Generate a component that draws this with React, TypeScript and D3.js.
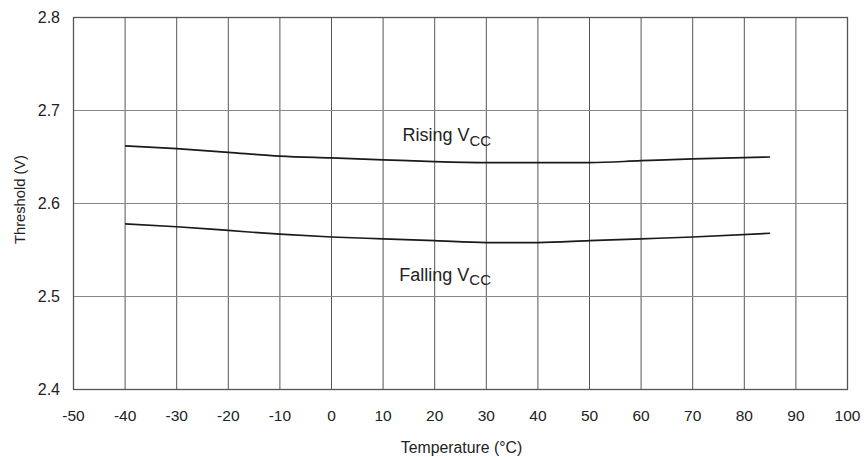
import React from "react";
import * as d3 from "d3";

const temps = [-40, -30, -20, -10, 0, 10, 20, 30, 40, 50, 60, 70, 85];
const rising = [2.662, 2.659, 2.655, 2.651, 2.649, 2.647, 2.645, 2.644, 2.644, 2.644, 2.646, 2.648, 2.650];
const falling = [2.578, 2.575, 2.571, 2.567, 2.564, 2.562, 2.560, 2.558, 2.558, 2.560, 2.562, 2.564, 2.568];
const xTicks = [-50, -40, -30, -20, -10, 0, 10, 20, 30, 40, 50, 60, 70, 80, 90, 100];
const yTicks = [2.4, 2.5, 2.6, 2.7, 2.8];

export default function App() {
  const W = 865, H = 457;
  const left = 73.5, right = 847.5, top = 17.5, bottom = 389.5;
  const x = d3.scaleLinear().domain([-50, 100]).range([left, right]);
  const y = d3.scaleLinear().domain([2.4, 2.8]).range([bottom, top]);
  const line = d3.line<[number, number]>().x(d => x(d[0])).y(d => y(d[1])).curve(d3.curveMonotoneX);
  const rData = temps.map((t, i) => [t, rising[i]] as [number, number]);
  const fData = temps.map((t, i) => [t, falling[i]] as [number, number]);
  const font = "Liberation Sans, Arial, Helvetica, sans-serif";
  return (
    <svg width={W} height={H} style={{ position: "absolute", left: 0, top: 0, background: "#fff" }} fontFamily={font}>
      {xTicks.slice(1, -1).map(t => (
        <line key={"gx" + t} x1={x(t)} x2={x(t)} y1={top} y2={bottom} stroke="#555" strokeWidth={1} />
      ))}
      {yTicks.slice(1, -1).map(t => (
        <line key={"gy" + t} x1={left} x2={right} y1={y(t)} y2={y(t)} stroke="#888" strokeWidth={1} />
      ))}
      <rect x={left} y={top} width={right - left} height={bottom - top} fill="none" stroke="#555" strokeWidth={1.3} />
      <path d={line(rData) || ""} fill="none" stroke="#1a1a1a" strokeWidth={1.7} />
      <path d={line(fData) || ""} fill="none" stroke="#1a1a1a" strokeWidth={1.7} />
      {xTicks.map(t => (
        <text key={"tx" + t} x={x(t)} y={420.5} textAnchor="middle" fontSize={15.5} fill="#222">{t}</text>
      ))}
      {yTicks.map(t => (
        <text key={"ty" + t} x={60} y={y(t) + 5.5} textAnchor="end" fontSize={16} fill="#222">{t.toFixed(1)}</text>
      ))}
      <text x={461.5} y={452.5} textAnchor="middle" fontSize={15.8} fill="#222">Temperature (°C)</text>
      <text transform={`translate(25, 199.5) rotate(-90)`} textAnchor="middle" fontSize={14.7} fill="#222">Threshold (V)</text>
      <text x={402.5} y={141.3} fontSize={18} fill="#222">Rising V<tspan dy={4.5} fontSize={15}>CC</tspan></text>
      <text x={399.3} y={280.7} fontSize={18} fill="#222">Falling V<tspan dy={4.5} fontSize={15}>CC</tspan></text>
    </svg>
  );
}
